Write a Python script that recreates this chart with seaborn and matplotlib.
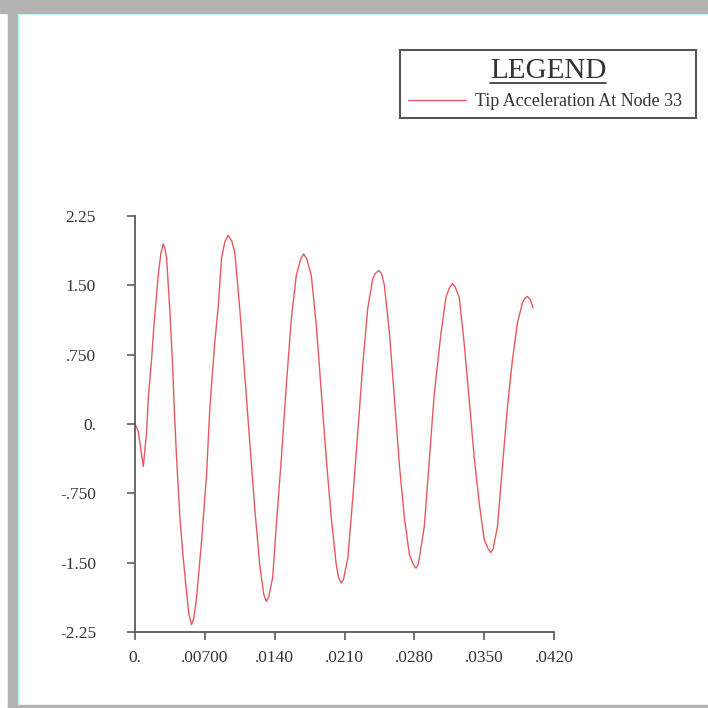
import matplotlib
matplotlib.use("Agg")
import matplotlib.pyplot as plt
import seaborn as sns
import pandas as pd
from matplotlib.patches import Rectangle
from matplotlib.lines import Line2D

# time (s) and tip acceleration
time = [0, .00033, .00083, .00117, .00133, .00167, .0019, .00233, .0026, .00283, .003, .00317,
        .0035, .00377, .00393, .00417, .0045, .00483, .00523, .0054, .00567, .0059,
        .00617, .00667, .00717, .0075, .008, .00833, .00867, .009, .00933, .0097, .01, .0105,
        .011, .0115, .012, .0125, .0129, .01317, .0134,
        .0138, .01417, .01467, .01517, .01567, .01617, .0166, .0169, .0172, .01767, .01817,
        .01867, .01917, .01967, .02017, .0204, .02067, .0209,
        .02133, .02183, .02233, .02283, .02333, .02383, .0241, .02443, .0247, .025, .0255,
        .026, .0265, .027, .0275, .0279, .02817, .0284,
        .029, .0295, .03, .03067, .03117, .0315, .03183, .0321, .0325, .033, .0335, .034,
        .0345, .035, .0354, .03567, .0359,
        .03633, .03683, .03733, .03783, .03833, .03883, .0391, .03933, .0396, .0399]
accel = [0, -0.08, -0.46, -0.08, 0.28, 0.71, 1.07, 1.61, 1.85, 1.95, 1.90, 1.79,
         1.21, 0.64, 0.17, -0.37, -1.01, -1.45, -1.88, -2.06, -2.17, -2.10,
         -1.88, -1.27, -0.55, 0.17, 0.89, 1.25, 1.79, 1.97, 2.04, 1.98, 1.86, 1.25,
         0.53, -0.19, -0.91, -1.52, -1.84, -1.92, -1.87,
         -1.66, -1.09, -0.37, 0.42, 1.14, 1.61, 1.78, 1.84, 1.79, 1.61, 1.07,
         0.35, -0.37, -1.01, -1.52, -1.66, -1.72, -1.68,
         -1.45, -0.80, -0.09, 0.64, 1.25, 1.57, 1.63, 1.66, 1.63, 1.50, 0.99,
         0.28, -0.44, -1.01, -1.41, -1.52, -1.56, -1.52,
         -1.11, -0.39, 0.33, 0.98, 1.37, 1.47, 1.52, 1.48, 1.37, 0.87, 0.26, -0.36,
         -0.85, -1.25, -1.35, -1.39, -1.35,
         -1.11, -0.46, 0.18, 0.69, 1.09, 1.31, 1.36, 1.38, 1.35, 1.26]

x_ticks = [0, .007, .014, .021, .028, .035, .042]
x_labels = ["0.", ".00700", ".0140", ".0210", ".0280", ".0350", ".0420"]
y_ticks = [-2.25, -1.5, -0.75, 0, 0.75, 1.5, 2.25]
y_labels = ["-2.25", "-1.50", "-.750", "0.", ".750", "1.50", "2.25"]
series_name = "Tip Acceleration At Node 33"

sns.set_theme(style="white")
plt.rcParams["font.family"] = ["Liberation Serif", "DejaVu Serif"]

W = 708
fig = plt.figure(figsize=(7.08, 7.08), dpi=100)
fig.patch.set_facecolor("white")

# grey window frame
grey = "#b3b3b3"
fig.patches.append(Rectangle((0, 1 - 13 / W), 1, 13 / W, transform=fig.transFigure, color=grey, zorder=0))
fig.patches.append(Rectangle((8 / W, 0), 9 / W, 1, transform=fig.transFigure, color=grey, zorder=0))
fig.patches.append(Rectangle((8 / W, 0), 1, 3 / W, transform=fig.transFigure, color=grey, zorder=0))
fig.add_artist(Line2D([17.5 / W, 1], [1 - 13.5 / W] * 2, transform=fig.transFigure, color="#b8f4f4", lw=0.8))
fig.add_artist(Line2D([17.5 / W] * 2, [3 / W, 1 - 13.5 / W], transform=fig.transFigure, color="#b8f4f4", lw=0.8))

ax = fig.add_axes([135 / W, 1 - 632 / W, (554 - 135) / W, (632 - 216) / W])
df = pd.DataFrame({"time": time, "accel": accel})
sns.lineplot(data=df, x="time", y="accel", ax=ax, color="#e35a5f", linewidth=1.0,
             label=series_name, estimator=None)

ax.set_xlim(0, 0.042)
ax.set_ylim(-2.25, 2.25)
ax.set_xticks(x_ticks, x_labels)
ax.set_yticks(y_ticks, y_labels)
ax.set_xlabel("")
ax.set_ylabel("")
for s in ["top", "right"]:
    ax.spines[s].set_visible(False)
for s in ["left", "bottom"]:
    ax.spines[s].set_color("#5a5a5a")
    ax.spines[s].set_linewidth(1.3)
ax.tick_params(axis="both", direction="out", length=6, width=1.2, color="#5a5a5a",
               labelsize=12.5, labelcolor="#333333")
ax.tick_params(axis="y", pad=22)
ax.tick_params(axis="x", pad=7)
ax.tick_params(left=True, bottom=True)

leg = ax.legend(loc="lower left", bbox_to_anchor=(400 / W, 1 - 118 / W, 296 / W, 68 / W),
                bbox_transform=fig.transFigure, mode="expand", title="LEGEND",
                title_fontsize=21, fontsize=13, handlelength=3.2, handletextpad=0.5,
                borderaxespad=0, borderpad=0.45, fancybox=False, framealpha=1)
leg.get_frame().set_edgecolor("#555555")
leg.get_frame().set_linewidth(1.5)
leg.get_title().set_color("#333333")
for t in leg.get_texts():
    t.set_color("#333333")

# underline the legend title
fig.canvas.draw()
bb = leg.get_title().get_window_extent()
fw, fh = fig.bbox.width, fig.bbox.height
fig.add_artist(Line2D([bb.x0 / fw, bb.x1 / fw], [(bb.y0 + 1) / fh] * 2,
                      transform=fig.transFigure, color="#333333", lw=1.2))

fig.savefig("out.png", dpi=100)
